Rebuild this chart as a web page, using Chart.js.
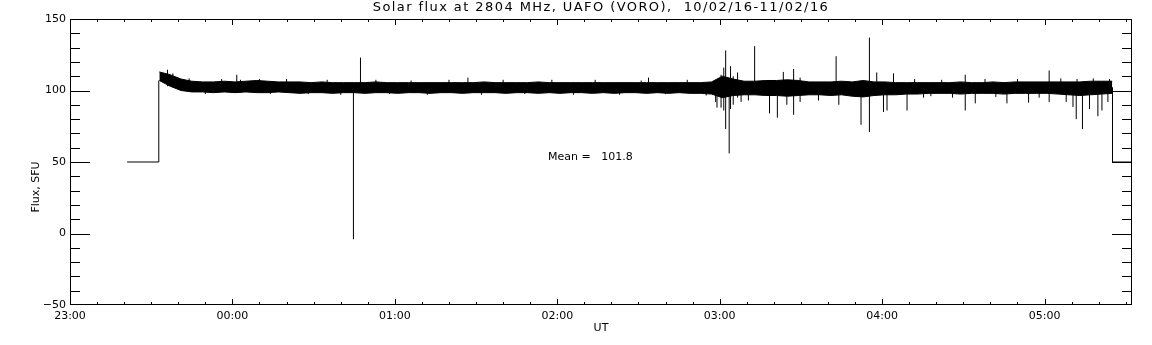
<!DOCTYPE html>
<html>
<head>
<meta charset="utf-8">
<script src="https://cdn.jsdelivr.net/npm/chart.js@4/dist/chart.umd.min.js"></script>
<style>
  html, body { margin: 0; padding: 0; background: #fff; }
  #wrap { width: 1152px; height: 345px; }
</style>
</head>
<body>
<div id="wrap"><canvas id="flux" width="1152" height="345"></canvas></div>
<script>
// x values are minutes after 23:00 UT
const titleText = "Solar flux at 2804 MHz, UAFO (VORO),  10/02/16-11/02/16";
const hourTicks = [0, 60, 120, 180, 240, 300, 360];
const hourLabels = ["23:00", "00:00", "01:00", "02:00", "03:00", "04:00", "05:00"];
const yTicks = [-50, 0, 50, 100, 150];
const yLabels = ["\u221250", "0", "50", "100", "150"];
const meanText = "Mean =   101.8";

// flat 50 SFU level before and after the observation
const leadTimes = [21.1, 32.8, 32.8];
const leadValues = [50, 50, 107];
const tailTimes = [385.1, 385.1, 392.3];
const tailValues = [102, 50, 50];

// envelope of the noisy record
const bandTimes = [33, 37, 41, 45, 49, 53, 57, 61, 65, 69, 73, 77, 81, 85, 89, 93, 97, 101, 105, 109,
  113, 117, 121, 125, 129, 133, 137, 141, 145, 149, 153, 157, 161, 165, 169, 173, 177, 181, 185, 189,
  193, 197, 201, 205, 209, 213, 217, 221, 225, 229, 233, 237, 241, 245, 249, 253, 257, 261, 265, 269,
  273, 277, 281, 285, 289, 293, 297, 301, 305, 309, 313, 317, 321, 325, 329, 333, 337, 341, 345, 349,
  353, 357, 361, 365, 369, 373, 377, 381, 385];
const bandLow = [107, 103, 100, 99, 99, 98.5, 99, 98.5, 99, 98.5, 98.5, 99, 98.5, 98, 98.5, 98.5, 98, 98.5, 98.5, 98,
  98.5, 98.5, 98, 98.5, 98.5, 98, 98.5, 98.5, 98, 98.5, 98.5, 98.5, 98, 98.5, 98.5, 98, 98.5, 98, 98.5, 98.5,
  98, 98.5, 98, 98.5, 98.5, 98, 98.5, 98, 98.5, 98, 98, 97.5, 95, 96.5, 97, 97, 96.5, 96.5, 96, 96.5,
  97, 97, 96.5, 97, 96, 95.5, 96.5, 97, 97, 97.5, 97.5, 98, 98, 98, 97.5, 98, 98, 98, 97.5, 98,
  98, 98, 98, 97.5, 97, 96.5, 97, 97.5, 98];
const bandHigh = [113, 111, 108, 106.5, 106, 106, 106.5, 106, 106.5, 107, 106.5, 106, 106, 106, 105.5, 106, 105.5, 105.5, 105.5, 105.5,
  106, 105.5, 105.5, 105.5, 105.5, 105.5, 105.5, 105.5, 105.5, 105.5, 106, 105.5, 105.5, 105.5, 105.5, 106, 105.5, 105.5, 105.5, 105.5,
  105.5, 105.5, 105.5, 105.5, 105.5, 105.5, 105.5, 105.5, 105.5, 105.5, 105.5, 106, 110, 108, 106.5, 106.5, 107, 107, 107.5, 107,
  106, 106, 106, 106.5, 106, 107, 106, 106, 105.5, 105.5, 105.5, 105.5, 105.5, 105.5, 106, 105.5, 105.5, 106, 105.5, 106,
  106, 106, 106, 106, 106, 106, 106.5, 106.5, 106.5];

// single spikes sticking out of the band
const spikeTimes = [61.6, 104.7, 107.3, 147, 213.7, 238.5, 239, 240.5, 241.5, 242.2, 243.5, 244, 245, 246.6, 247.9,
  250.6, 252.9, 258.4, 261.3, 263.5, 264.8, 267.3, 269.7, 276.5, 283, 284, 292.2, 295.3, 298, 300.5,
  301.8, 304.2, 309.2, 315.3, 330.7, 334.4, 346.1, 354.1, 361.7, 370.5, 371.7, 374, 376.6, 379.7, 381.2, 383.4];
const spikeLow = [100, -4, 100, 100, 100, 92, 88, 88, 86, 73, 56, 87, 90, 95, 92,
  93, 100, 84, 81, 100, 90, 83, 92, 93, 100, 90, 76, 71, 100, 85,
  86, 100, 86, 95, 86, 91, 91, 91.5, 92, 88.5, 80, 73, 87, 82, 86, 92];
const spikeHigh = [111, 100, 123, 109, 109, 104, 104, 111, 116, 128, 100, 117, 110, 112.6, 104,
  104, 131, 100, 104, 113, 104, 115, 109, 104, 124, 104, 100, 137, 112.6, 104,
  104, 112, 104, 104, 111, 104, 104, 104, 114, 104, 100, 100, 104, 100, 100, 104];

// short noise whiskers on the edges of the band
const fuzzTimes = [36, 38, 44, 50, 56, 63, 70, 74, 80, 88, 95, 100, 113, 118, 126, 132, 140, 152, 160, 168,
  178, 186, 194, 203, 211, 220, 228, 235, 312, 318, 322, 326, 338, 342, 350, 358, 366, 368, 372, 378, 384];
const fuzzLow = [103, 103, 103, 97.5, 103, 103, 103, 97.5, 103, 97.5, 103, 97, 103, 97.5, 103, 97, 103, 97, 103, 97.5,
  103, 97, 103, 97, 103, 97.5, 103, 96.5, 103, 96, 103, 95, 103, 95.5, 103, 95, 103, 92, 103, 103, 103];
const fuzzHigh = [114.5, 112, 108.5, 103, 108, 107.5, 108, 103, 108, 103, 107.5, 103, 107.5, 103, 107, 103, 107.5, 103, 107.5, 103,
  107.5, 103, 107.5, 103, 107, 103, 107.5, 103, 108, 103, 107.5, 103, 108, 103, 108, 103, 108.5, 103, 108, 108.5, 108];

function toPoints(xs, ys) {
  return xs.map((t, i) => ({ x: t, y: ys[i] }));
}

// each whisker is its own vertical segment, separated by gaps
function whiskers(times, lows, highs) {
  const pts = [];
  times.forEach((t, i) => {
    pts.push({ x: t, y: lows[i] });
    pts.push({ x: t, y: highs[i] });
    pts.push({ x: t, y: null });
  });
  return pts;
}

const FONT = '"DejaVu Sans", sans-serif';

const idlFrame = {
  id: "idlFrame",
  afterDraw(chart) {
    const { ctx, chartArea: a, scales } = chart;
    const x = scales.x, y = scales.y;
    ctx.save();
    ctx.strokeStyle = "#000";
    ctx.fillStyle = "#000";
    ctx.lineWidth = 1;
    ctx.strokeRect(a.left + 0.5, a.top + 0.5, a.right - a.left - 1, a.bottom - a.top - 1);

    ctx.beginPath();
    for (let v = -40; v < 150; v += 10) {
      const py = Math.round(y.getPixelForValue(v)) + 0.5;
      const len = v % 50 === 0 ? 20 : 10;
      ctx.moveTo(a.left, py); ctx.lineTo(a.left + len, py);
      ctx.moveTo(a.right, py); ctx.lineTo(a.right - len, py);
    }
    for (let t = 10; t < x.max; t += 10) {
      const px = Math.round(x.getPixelForValue(t)) + 0.5;
      const len = t % 60 === 0 ? 6 : 3;
      ctx.moveTo(px, a.bottom); ctx.lineTo(px, a.bottom - len);
      ctx.moveTo(px, a.top); ctx.lineTo(px, a.top + len);
    }
    ctx.stroke();

    ctx.font = "11px " + FONT;
    ctx.textAlign = "right";
    ctx.textBaseline = "middle";
    yTicks.forEach((v, i) => {
      ctx.fillText(yLabels[i], a.left - 4, y.getPixelForValue(v));
    });
    ctx.textAlign = "center";
    ctx.textBaseline = "top";
    hourTicks.forEach((t, i) => {
      ctx.fillText(hourLabels[i], x.getPixelForValue(t), a.bottom + 6);
    });
    ctx.textBaseline = "middle";
    ctx.fillText("UT", (a.left + a.right) / 2, 328);

    ctx.textAlign = "left";
    ctx.fillText(meanText, 548, 157);

    ctx.save();
    ctx.translate(36, 187);
    ctx.rotate(-Math.PI / 2);
    ctx.textAlign = "center";
    ctx.fillText("Flux, SFU", 0, 0);
    ctx.restore();

    // title, spread out like the plotting font of the original
    ctx.font = "13px " + FONT;
    ctx.letterSpacing = "0px";
    const w = ctx.measureText(titleText).width;
    ctx.letterSpacing = Math.max(0, (455 - w) / (titleText.length - 1)).toFixed(2) + "px";
    ctx.textAlign = "center";
    ctx.fillText(titleText, (a.left + a.right) / 2, 8);
    ctx.restore();
  }
};

new Chart(document.getElementById("flux"), {
  type: "line",
  data: {
    datasets: [
      {
        data: toPoints(bandTimes, bandHigh),
        borderColor: "#000",
        backgroundColor: "#000",
        borderWidth: 1,
        fill: "+1"
      },
      {
        data: toPoints(bandTimes, bandLow),
        borderColor: "#000",
        borderWidth: 1,
        fill: false
      },
      {
        data: whiskers(spikeTimes, spikeLow, spikeHigh),
        borderColor: "#000",
        borderWidth: 1,
        spanGaps: false,
        fill: false
      },
      {
        data: whiskers(fuzzTimes, fuzzLow, fuzzHigh),
        borderColor: "#000",
        borderWidth: 1,
        spanGaps: false,
        fill: false
      },
      {
        data: toPoints(leadTimes, leadValues),
        borderColor: "#000",
        borderWidth: 1,
        fill: false
      },
      {
        data: toPoints(tailTimes, tailValues),
        borderColor: "#000",
        borderWidth: 1,
        fill: false
      }
    ]
  },
  options: {
    responsive: false,
    animation: false,
    events: [],
    layout: { padding: { left: 70, right: 20, top: 19, bottom: 40 } },
    scales: {
      x: { type: "linear", min: 0, max: 392.3, display: false },
      y: { min: -50, max: 150, display: false }
    },
    elements: {
      point: { radius: 0 },
      line: { tension: 0 }
    },
    plugins: {
      legend: { display: false },
      title: { display: false },
      tooltip: { enabled: false }
    }
  },
  plugins: [idlFrame]
});
</script>
</body>
</html>
